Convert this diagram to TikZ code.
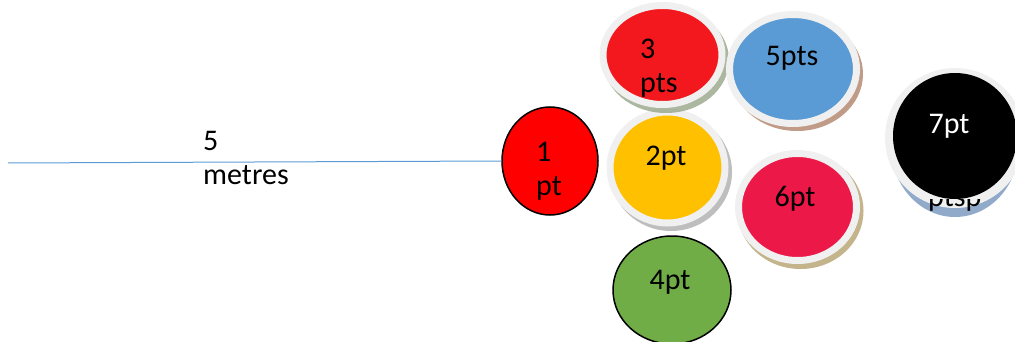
\documentclass[tikz,border=0pt]{standalone}
\usepackage{fontspec}
\setmainfont{Carlito}
\usetikzlibrary{shapes.geometric}
\definecolor{lineblue}{HTML}{5B9BD5}
\definecolor{pureRed}{HTML}{FF0000}
\definecolor{redThree}{HTML}{F3181D}
\definecolor{blueFive}{HTML}{5B9BD5}
\definecolor{yellowTwo}{HTML}{FFC000}
\definecolor{crimsonSix}{HTML}{EC1848}
\definecolor{greenFour}{HTML}{70AD47}
\definecolor{ringGrey}{HTML}{F0F0F0}
\definecolor{shGreen}{RGB}{150,165,135}
\definecolor{shBrown}{RGB}{192,155,135}
\definecolor{shGrey}{RGB}{190,190,190}
\definecolor{shTan}{RGB}{196,180,140}
\definecolor{shBlue}{RGB}{145,170,202}
\tikzset{
  lbl/.style={font=\fontsize{30}{34}\selectfont, inner sep=0pt, text=black},
  plainball/.style={ellipse, draw=black, line width=1.5pt, inner sep=0pt},
  ringball/.style={ellipse, draw=ringGrey, line width=7pt, inner sep=0pt},
}
\begin{document}
\begin{tikzpicture}[x=1pt,y=-1pt]
\useasboundingbox (0,0) rectangle (1015,342);
% connector
\coordinate (lstart) at (8,163);
\node[plainball, fill=pureRed, minimum width=96pt, minimum height=108pt] (n1) at (550,161) {};
\draw[lineblue, line width=1pt] (lstart) -- (n1.west);
\node[lbl, align=left, anchor=base west] (t5m) at (203,184) {5\\metres};
\node[lbl, align=left, anchor=base west] (t1) at (536,195) {1\\pt};
% 2pt
\fill[shGrey] (671,172) ellipse (61 and 59);
\node[ringball, fill=yellowTwo, minimum width=115pt, minimum height=111pt] (n2) at (667.5,167.5) {};
\node[lbl, anchor=base] (t2) at (666,165) {2pt};
% 3pts
\fill[shGreen, opacity=0.8] (666,60) ellipse (63 and 53);
\node[ringball, fill=redThree, minimum width=119pt, minimum height=99pt] (n3) at (662.5,55) {};
\node[lbl, align=left, anchor=base west] (t3) at (640,93) {3\\pts};
% 5pts
\fill[shBrown] (797,74) ellipse (66 and 57);
\node[ringball, fill=blueFive, minimum width=127pt, minimum height=109pt] (n5) at (793,69) {};
\node[lbl, anchor=base] (t5) at (792,66) {5pts};
% 6pt
\fill[shTan] (800.5,211) ellipse (63 and 58);
\node[ringball, fill=crimsonSix, minimum width=118pt, minimum height=107pt] (n6) at (797.5,207) {};
\node[lbl, anchor=base] (t6) at (795,207) {6pt};
% 4pt
\node[plainball, fill=greenFour, minimum width=118pt, minimum height=108pt] (n4) at (672,290) {};
\node[lbl, anchor=base] (t4) at (670,289) {4pt};
% 7pt
\fill[shBlue] (955,146) ellipse (64 and 71);
\fill[ringGrey] (955,138) ellipse (70 and 70);
\begin{scope}
  \clip (900,199) rectangle (1000,230);
  \node[lbl, anchor=base west] (tp) at (928,206) {ptsp};
\end{scope}
\node[ellipse, fill=black, inner sep=0pt, minimum width=124pt, minimum height=126pt] (n7) at (955,136) {};
\node[lbl, anchor=base, text=white] (t7) at (949,134) {7pt};
\end{tikzpicture}
\end{document}
